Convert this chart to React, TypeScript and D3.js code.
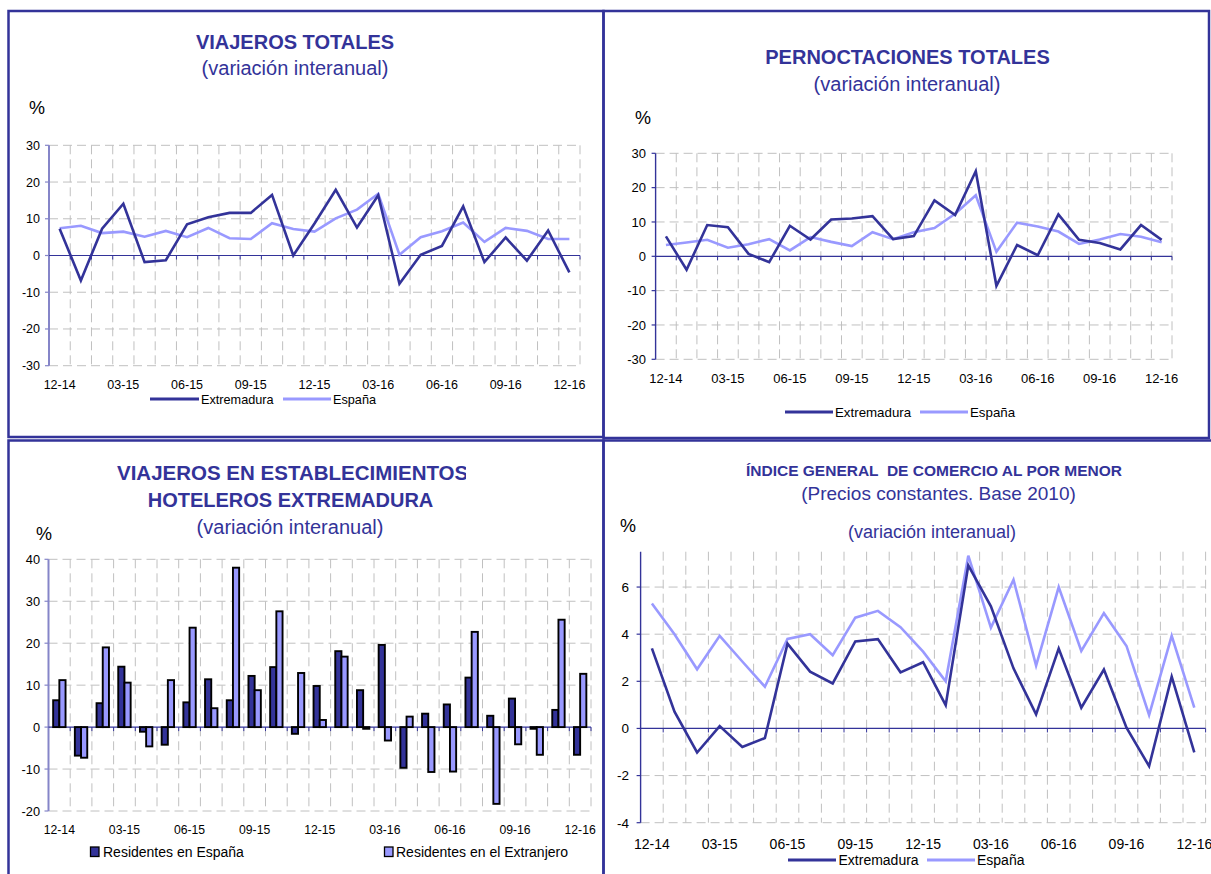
import React from 'react';
import * as d3 from 'd3';

// ---------- DATA ----------
const months = [
  '12-14', '01-15', '02-15', '03-15', '04-15', '05-15', '06-15', '07-15', '08-15', '09-15', '10-15', '11-15',
  '12-15', '01-16', '02-16', '03-16', '04-16', '05-16', '06-16', '07-16', '08-16', '09-16', '10-16', '11-16', '12-16',
];
const shownMonths = ['12-14', '03-15', '06-15', '09-15', '12-15', '03-16', '06-16', '09-16', '12-16'];

const viajerosExtremadura = [7.3, -6.8, 7.3, 14.1, -1.8, -1.3, 8.5, 10.4, 11.6, 11.6, 16.5, 0.0, 8.7, 17.9, 7.6, 16.4, -7.7, 0.2, 2.6, 13.4, -1.8, 4.9, -1.4, 6.8, -4.6];
const viajerosEspana = [7.4, 8.1, 6.1, 6.5, 5.1, 6.7, 5.0, 7.5, 4.7, 4.5, 8.8, 7.2, 6.5, 10.1, 12.5, 16.8, 0.2, 5.0, 6.6, 9.0, 3.7, 7.5, 6.7, 4.5, 4.5];

const pernoctExtremadura = [5.8, -3.9, 9.1, 8.5, 0.7, -1.7, 8.9, 4.9, 10.7, 11.0, 11.7, 5.0, 5.9, 16.3, 12.0, 24.8, -8.6, 3.3, 0.3, 12.2, 4.8, 3.9, 2.0, 9.1, 4.8];
const pernoctEspana = [3.3, 4.0, 4.8, 2.5, 3.5, 5.0, 1.7, 5.6, 4.2, 3.0, 7.0, 5.0, 7.0, 8.2, 12.4, 17.8, 1.3, 9.8, 8.7, 7.2, 3.6, 4.9, 6.5, 5.7, 4.1];

const residentesEspana = [6.4, -6.8, 5.7, 14.4, -1.1, -4.2, 5.9, 11.4, 6.4, 12.2, 14.3, -1.6, 9.8, 18.1, 8.8, 19.6, -9.7, 3.2, 5.4, 11.8, 2.7, 6.8, -0.4, 4.1, -6.6];
const residentesExtranjero = [11.2, -7.3, 19.0, 10.6, -4.6, 11.2, 23.7, 4.5, 38.0, 8.8, 27.6, 12.9, 1.7, 16.8, -0.4, -3.2, 2.5, -10.7, -10.6, 22.7, -18.3, -4.1, -6.6, 25.6, 12.7];

const comercioExtremadura = [3.40, 0.71, -1.02, 0.10, -0.79, -0.41, 3.60, 2.41, 1.91, 3.69, 3.79, 2.38, 2.81, 0.99, 6.92, 5.18, 2.55, 0.60, 3.39, 0.88, 2.50, 0.03, -1.60, 2.20, -1.02];
const comercioEspana = [5.30, 4.00, 2.51, 3.93, 2.84, 1.77, 3.80, 4.00, 3.11, 4.70, 4.99, 4.30, 3.26, 2.00, 7.33, 4.28, 6.31, 2.67, 6.00, 3.29, 4.89, 3.50, 0.57, 3.93, 0.88];

const ticks30 = [-30, -20, -10, 0, 10, 20, 30];
const ticks40 = [-20, -10, 0, 10, 20, 30, 40];
const ticksComercio = [-4, -2, 0, 2, 4, 6];

// ---------- STYLE ----------
const FONT = '"Liberation Sans", Arial, Helvetica, sans-serif';
const NAVY = '#333399';
const LAV = '#9999FF';
const GRID = '#c0c0c0';

type Frame = {
  x0: number; x1: number; yTop: number; yBot: number;
  domain: [number, number]; ticks: number[];
  axisColor: string; axisWidth: number;
  labelRight: number; xLabelBaseline: number;
  yFont: number; xFont: number;
};

function useScales(f: Frame) {
  const x = d3.scaleBand<string>().domain(months).range([f.x0, f.x1]).padding(0);
  const y = d3.scaleLinear().domain(f.domain).range([f.yBot, f.yTop]);
  return { x, y };
}

function Axes({ f }: { f: Frame }) {
  const { x, y } = useScales(f);
  const bw = x.bandwidth();
  const bounds = d3.range(1, months.length + 1).map((k) => f.x0 + k * bw);
  const y0 = y(0);
  return (
    <g>
      {f.ticks.filter((t) => t !== 0).map((t) => (
        <line key={'h' + t} x1={f.x0} x2={f.x1} y1={y(t)} y2={y(t)} stroke={GRID} strokeWidth={1} strokeDasharray="9,5" />
      ))}
      {bounds.map((bx, i) => (
        <line key={'v' + i} x1={bx} x2={bx} y1={f.yTop} y2={f.yBot} stroke={GRID} strokeWidth={1} strokeDasharray="9,5" />
      ))}
      <line x1={f.x0} x2={f.x0} y1={f.yTop} y2={f.yBot} stroke={f.axisColor} strokeWidth={f.axisWidth} />
      {f.ticks.map((t) => (
        <g key={'t' + t}>
          <line x1={f.x0 - 4} x2={f.x0} y1={y(t)} y2={y(t)} stroke={f.axisColor} strokeWidth={1.2} />
          <text x={f.labelRight} y={y(t) + f.yFont * 0.36} textAnchor="end" fontSize={f.yFont} fontFamily={FONT} fill="#000">{t}</text>
        </g>
      ))}
      <line x1={f.x0} x2={f.x1} y1={y0} y2={y0} stroke={NAVY} strokeWidth={1.2} />
      {bounds.map((bx, i) => (
        <line key={'xt' + i} x1={bx} x2={bx} y1={y0} y2={y0 + 4} stroke={NAVY} strokeWidth={1} />
      ))}
      {shownMonths.map((m) => (
        <text key={m} x={(x(m) as number) + bw / 2} y={f.xLabelBaseline} textAnchor="middle" fontSize={f.xFont} fontFamily={FONT} fill="#000">{m}</text>
      ))}
    </g>
  );
}

function Lines({ f, a, b }: { f: Frame; a: number[]; b: number[] }) {
  const { x, y } = useScales(f);
  const bw = x.bandwidth();
  const line = d3.line<number>().x((_, i) => (x(months[i]) as number) + bw / 2).y((d) => y(d));
  return (
    <g>
      <path d={line(b) || ''} fill="none" stroke={LAV} strokeWidth={2.6} strokeLinejoin="miter" />
      <path d={line(a) || ''} fill="none" stroke={NAVY} strokeWidth={2.6} strokeLinejoin="miter" />
    </g>
  );
}

function Bars({ f, a, b }: { f: Frame; a: number[]; b: number[] }) {
  const { x, y } = useScales(f);
  const inner = d3.scaleBand<string>().domain(['a', 'b']).range([0, x.bandwidth()]).paddingInner(0).paddingOuter(0.75);
  const y0 = y(0);
  const mk = (vals: number[], key: string, fill: string) =>
    vals.map((v, i) => {
      const bx = (x(months[i]) as number) + (inner(key) as number);
      const yy = y(v);
      return (
        <rect key={key + i} x={bx} y={Math.min(yy, y0)} width={inner.bandwidth()} height={Math.abs(yy - y0)}
          fill={fill} stroke="#000" strokeWidth={1.9} />
      );
    });
  return (
    <g>
      {mk(a, 'a', NAVY)}
      {mk(b, 'b', LAV)}
    </g>
  );
}

function LineLegend({ y, base, items, size }: { y: number; base: number; size: number; items: { x1: number; x2: number; tx: number; label: string; color: string }[] }) {
  return (
    <g>
      {items.map((it) => (
        <g key={it.label}>
          <line x1={it.x1} x2={it.x2} y1={y} y2={y} stroke={it.color} strokeWidth={3} />
          <text x={it.tx} y={base} fontSize={size} fontFamily={FONT} fill="#000">{it.label}</text>
        </g>
      ))}
    </g>
  );
}

const F1: Frame = { x0: 49, x1: 580, yTop: 145.3, yBot: 365.7, domain: [-30, 30], ticks: ticks30, axisColor: '#8585c8', axisWidth: 2, labelRight: 40, xLabelBaseline: 389, yFont: 12.5, xFont: 12.5 };
const F2: Frame = { x0: 655.6, x1: 1172, yTop: 153.3, yBot: 359.3, domain: [-30, 30], ticks: ticks30, axisColor: NAVY, axisWidth: 1.4, labelRight: 646, xLabelBaseline: 383, yFont: 13, xFont: 13 };
const F3: Frame = { x0: 48.5, x1: 591, yTop: 559.3, yBot: 811, domain: [-20, 40], ticks: ticks40, axisColor: '#8585c8', axisWidth: 2, labelRight: 40, xLabelBaseline: 834, yFont: 12.8, xFont: 12.2 };
const F4: Frame = { x0: 640.6, x1: 1205.6, yTop: 551.7, yBot: 822.7, domain: [-4, 7.5], ticks: ticksComercio, axisColor: NAVY, axisWidth: 1.4, labelRight: 629, xLabelBaseline: 849, yFont: 13.5, xFont: 14 };

const titleStyle = { fontFamily: FONT, fill: NAVY } as const;

export default function App() {
  return (
    <svg width={1211} height={874} style={{ position: 'absolute', left: 0, top: 0, background: '#fff' }}>
      <defs>
        <clipPath id="t3clip"><rect x={0} y={440} width={466} height={60} /></clipPath>
      </defs>
      <rect x={0} y={0} width={1211} height={874} fill="#fff" />
      {/* panel frames */}
      <rect x={8.5} y={11} width={595} height={426} fill="none" stroke={NAVY} strokeWidth={2.5} />
      <rect x={603.5} y={11} width={605.5} height={427} fill="none" stroke={NAVY} strokeWidth={2.5} />
      <rect x={8.5} y={440.5} width={595} height={460} fill="none" stroke={NAVY} strokeWidth={2.5} />
      <rect x={603.5} y={440.5} width={640} height={460} fill="none" stroke={NAVY} strokeWidth={2.5} />

      {/* Panel 1 */}
      <text x={295} y={48.5} textAnchor="middle" fontSize={20} fontWeight="bold" {...titleStyle}>VIAJEROS TOTALES</text>
      <text x={295} y={74.5} textAnchor="middle" fontSize={20} {...titleStyle}>(variación interanual)</text>
      <text x={37} y={114} textAnchor="middle" fontSize={18} fontFamily={FONT} fill="#000">%</text>
      <Axes f={F1} />
      <Lines f={F1} a={viajerosExtremadura} b={viajerosEspana} />
      <LineLegend y={399} base={404} size={12.7} items={[
        { x1: 150, x2: 199, tx: 201, label: 'Extremadura', color: NAVY },
        { x1: 283, x2: 331, tx: 333, label: 'España', color: LAV },
      ]} />

      {/* Panel 2 */}
      <text x={907.5} y={64} textAnchor="middle" fontSize={20} fontWeight="bold" {...titleStyle}>PERNOCTACIONES TOTALES</text>
      <text x={907} y={91} textAnchor="middle" fontSize={20} {...titleStyle}>(variación interanual)</text>
      <text x={643} y={124} textAnchor="middle" fontSize={18} fontFamily={FONT} fill="#000">%</text>
      <Axes f={F2} />
      <Lines f={F2} a={pernoctExtremadura} b={pernoctEspana} />
      <LineLegend y={412} base={417} size={13.3} items={[
        { x1: 785, x2: 833, tx: 835, label: 'Extremadura', color: NAVY },
        { x1: 920, x2: 968, tx: 970, label: 'España', color: LAV },
      ]} />

      {/* Panel 3 */}
      <g clipPath="url(#t3clip)">
        <text x={117} y={480} textAnchor="start" fontSize={20.5} fontWeight="bold" {...titleStyle}>VIAJEROS EN ESTABLECIMIENTOS</text>
      </g>
      <text x={290.5} y={507} textAnchor="middle" fontSize={20} fontWeight="bold" {...titleStyle}>HOTELEROS EXTREMADURA</text>
      <text x={290} y={534} textAnchor="middle" fontSize={20} {...titleStyle}>(variación interanual)</text>
      <text x={44} y={540} textAnchor="middle" fontSize={18} fontFamily={FONT} fill="#000">%</text>
      <Axes f={F3} />
      <Bars f={F3} a={residentesEspana} b={residentesExtranjero} />
      <rect x={90.5} y={847} width={8.5} height={9.5} fill={NAVY} stroke="#000" strokeWidth={1.3} />
      <text x={103} y={857} fontSize={14} fontFamily={FONT} fill="#000">Residentes en España</text>
      <rect x={384.5} y={847} width={8.5} height={9.5} fill={LAV} stroke="#000" strokeWidth={1.3} />
      <text x={396} y={857} fontSize={14} fontFamily={FONT} fill="#000">Residentes en el Extranjero</text>

      {/* Panel 4 */}
      <text x={934} y={476} textAnchor="middle" fontSize={15.5} fontWeight="bold" {...titleStyle} style={{ whiteSpace: 'pre' }}>{'ÍNDICE GENERAL  DE COMERCIO AL POR MENOR'}</text>
      <text x={938.5} y={500} textAnchor="middle" fontSize={19} {...titleStyle}>(Precios constantes. Base 2010)</text>
      <text x={628} y={532} textAnchor="middle" fontSize={18} fontFamily={FONT} fill="#000">%</text>
      <text x={932} y={538} textAnchor="middle" fontSize={18} {...titleStyle}>(variación interanual)</text>
      <Axes f={F4} />
      <Lines f={F4} a={comercioExtremadura} b={comercioEspana} />
      <LineLegend y={860} base={865} size={14} items={[
        { x1: 788, x2: 836, tx: 838.5, label: 'Extremadura', color: NAVY },
        { x1: 927, x2: 975, tx: 977, label: 'España', color: LAV },
      ]} />
    </svg>
  );
}
